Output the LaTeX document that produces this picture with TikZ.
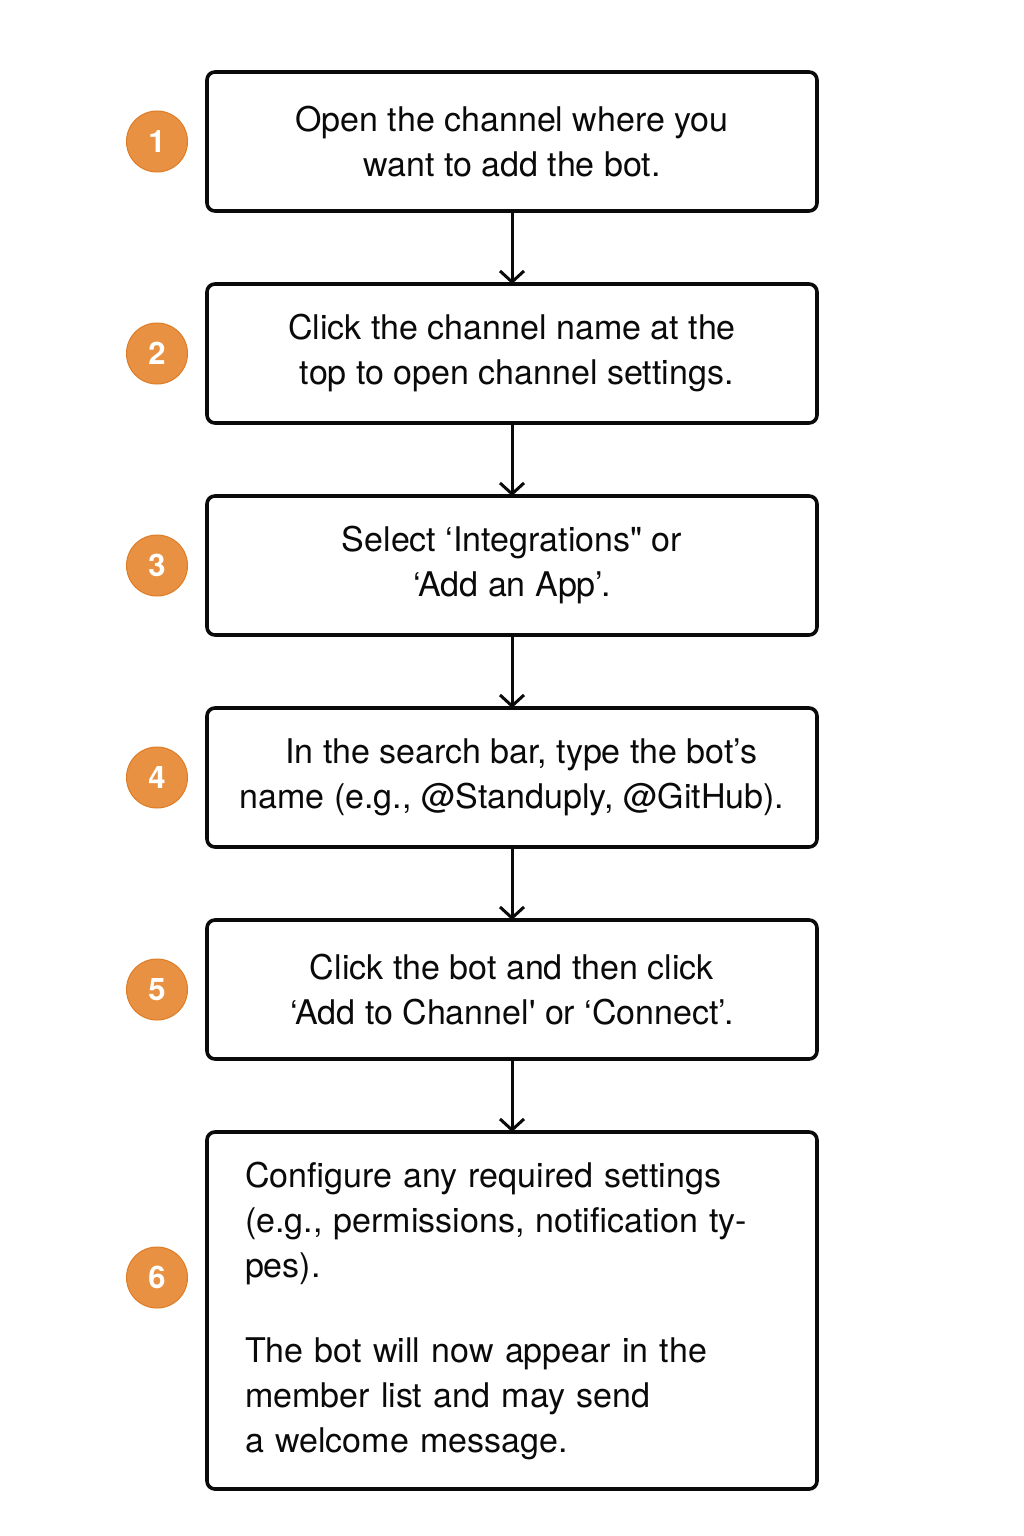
\documentclass[tikz,border=0pt]{standalone}
\usepackage{fontspec}
\setmainfont{TeX Gyre Heros}
\usetikzlibrary{positioning,arrows.meta}
\definecolor{colorstep}  {RGB}{232,145,66}
\definecolor{colorring}  {RGB}{222,124,38}
\definecolor{colortext}  {RGB}{10,10,10}

\begin{document}
\begin{tikzpicture}[
    x=1pt, y=1pt,
    node distance = 73pt,
    font={\fontsize{34}{45}\selectfont},
    box/.style={draw=colortext,line width=3.6pt,rounded corners=8pt,outer sep=0pt,
        minimum width=610pt,minimum height=139pt,align=center,text=colortext,inner sep=0pt},
    numbadge/.style={circle,fill=colorstep,draw=colorring,line width=1pt,minimum size=61pt,
        inner sep=0pt,text=white,font={\fontsize{31}{31}\selectfont\bfseries}},
    flow/.style={-{Straight Barb[length=11pt,width=24pt,line width=3pt]},line width=3pt,draw=colortext},
]
    \useasboundingbox[fill=white] (0,0) rectangle (1024,-1536);

    % Boxes
    \node[box] (step1) at (512,-141.5) {Open the channel where you\\ want to add the bot.};
    \node[box,below=of step1] (step2) {Click the channel name at the\\ \ top to open channel settings.};
    \node[box,below=of step2] (step3) {Select ‘Integrations\textquotedbl{} or\\ ‘Add an App’.};
    \node[box,below=of step3] (step4) {\ \ In the search bar, type the bot’s\\ name (e.g., @Standuply, @GitHub).};
    \node[box,below=of step4] (step5) {Click the bot and then click\\ ‘Add to Channel\textquotesingle{} or ‘Connect’.};
    \node[box,below=of step5,minimum height=357pt,align=left,text width=534pt] (step6)
        {Configure any required settings\\ (e.g., permissions, notification ty-\\ pes).\\[40pt]
         The bot will now appear in the\\ member list and may send\\ a welcome message.};

    % Badges
    \foreach \i in {1,...,5}
        \node[numbadge,left=19pt of step\i] (badge\i) {\i};
    \node[numbadge,left=19pt of step6,yshift=33pt] (badge6) {6};

    % Arrows
    \foreach \i [evaluate=\i as \j using int(\i+1)] in {1,...,5}
        \draw[flow] (step\i) -- (step\j);

\end{tikzpicture}
\end{document}
